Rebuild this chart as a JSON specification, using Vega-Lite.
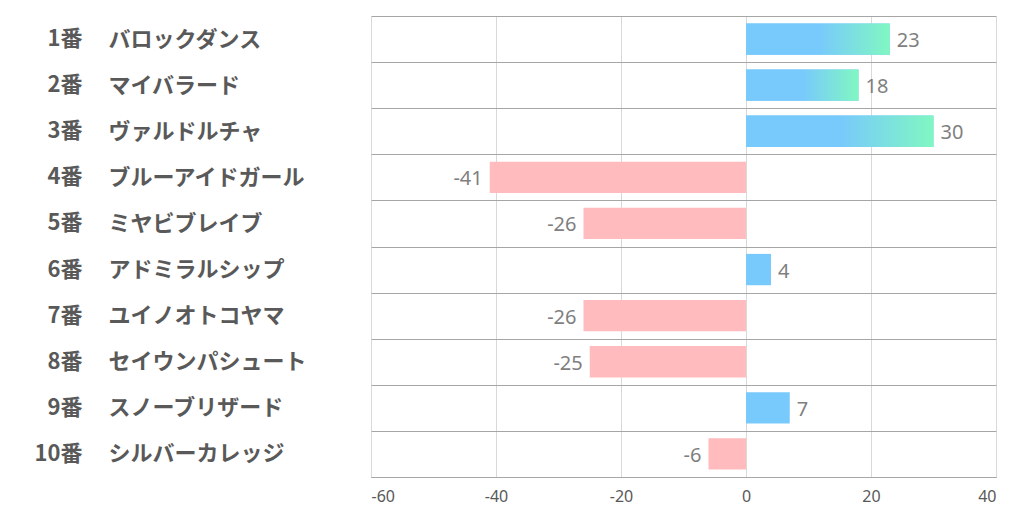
{
  "$schema": "https://vega.github.io/schema/vega-lite/v6.json",
  "width": 625,
  "height": 461,
  "autosize": {"type": "none"},
  "padding": {"left": 371, "top": 16, "right": 26, "bottom": 45},
  "background": "white",
  "config": {"view": {"stroke": null}},
  "data": {"values": [
    {"horse": "1番　バロックダンス", "value": 23},
    {"horse": "2番　マイバラード", "value": 18},
    {"horse": "3番　ヴァルドルチャ", "value": 30},
    {"horse": "4番　ブルーアイドガール", "value": -41},
    {"horse": "5番　ミヤビブレイブ", "value": -26},
    {"horse": "6番　アドミラルシップ", "value": 4},
    {"horse": "7番　ユイノオトコヤマ", "value": -26},
    {"horse": "8番　セイウンパシュート", "value": -25},
    {"horse": "9番　スノーブリザード", "value": 7},
    {"horse": "10番　シルバーカレッジ", "value": -6}
  ]},
  "resolve": {"axis": {"y": "independent"}},
  "layer": [
    {
      "mark": {"type": "bar", "height": {"band": 0.68}},
      "encoding": {
        "y": {"field": "horse", "type": "nominal", "sort": null,
          "scale": {"paddingInner": 0, "paddingOuter": 0},
          "axis": {"title": null, "orient": "left", "domain": false, "ticks": false, "tickSize": 0,
            "labelExpr": "split(datum.label, '　')[1]",
            "labelAlign": "left", "labelPadding": 263,
            "labelFont": "Noto Sans CJK JP", "labelFontWeight": "bold", "labelFontSize": 22,
            "labelColor": "#595959", "labelLimit": 0,
            "grid": true, "gridColor": "#a6a6a6", "gridWidth": 1, "tickBand": "extent"}},
        "x": {"field": "value", "type": "quantitative",
          "scale": {"domain": [-60, 40], "nice": false, "zero": true},
          "axis": {"title": null, "values": [-60, -40, -20, 0, 20, 40],
            "labelExpr": "'' + datum.value",
            "grid": true, "gridColor": "#d9d9d9", "domain": true, "domainColor": "#a6a6a6",
            "ticks": false, "tickSize": 0, "labelPadding": 11,
            "labelFont": "Noto Sans", "labelFontSize": 16, "labelColor": "#595959"}},
        "color": {"condition": {"test": "datum.value < 0", "value": "#ffbbbd"}, "value": "#78c9fc"}
      }
    },
    {
      "mark": {"type": "bar", "height": {"band": 0.68}, "color": {"gradient": "linear", "x1": 0, "y1": 0, "x2": 1, "y2": 0,
        "stops": [{"offset": 0, "color": "#78c9fc"}, {"offset": 0.5, "color": "#78c9fc"}, {"offset": 1, "color": "#80f7c2"}]}},
      "encoding": {
        "y": {"field": "horse", "type": "nominal", "sort": null, "axis": null},
        "x": {"field": "value", "type": "quantitative"},
        "opacity": {"condition": {"test": "datum.value >= 10", "value": 1}, "value": 0}
      }
    },
    {
      "mark": {"type": "text", "align": "left", "baseline": "middle", "dx": 7, "dy": 2, "font": "Noto Sans", "fontSize": 20, "color": "#7f7f7f"},
      "encoding": {
        "y": {"field": "horse", "type": "nominal", "sort": null,
          "axis": {"title": null, "orient": "left", "domain": false, "ticks": false, "tickSize": 0, "grid": false,
            "labelExpr": "split(datum.label, '　')[0]",
            "labelAlign": "right", "labelPadding": 289,
            "labelFont": "Noto Sans CJK JP", "labelFontWeight": "bold", "labelFontSize": 22,
            "labelColor": "#595959", "labelLimit": 0}},
        "x": {"field": "value", "type": "quantitative"},
        "text": {"condition": {"test": "datum.value >= 0", "field": "value", "type": "nominal"}, "value": ""}
      }
    },
    {
      "mark": {"type": "text", "align": "right", "baseline": "middle", "dx": -7, "dy": 2, "font": "Noto Sans", "fontSize": 20, "color": "#7f7f7f"},
      "encoding": {
        "y": {"field": "horse", "type": "nominal", "sort": null, "axis": null},
        "x": {"field": "value", "type": "quantitative"},
        "text": {"condition": {"test": "datum.value < 0", "field": "value", "type": "nominal"}, "value": ""}
      }
    }
  ]
}
